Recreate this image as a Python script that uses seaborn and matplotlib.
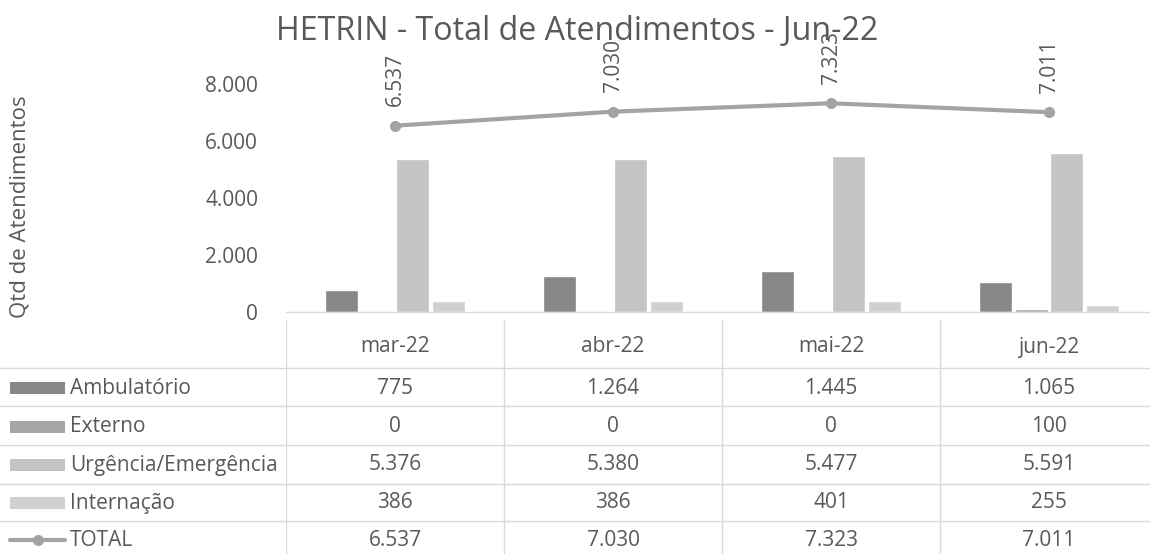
import matplotlib
matplotlib.use("Agg")
import matplotlib.pyplot as plt
from matplotlib.patches import Rectangle
from matplotlib.lines import Line2D
import seaborn as sns
import pandas as pd

# chart data
months = ["mar-22", "abr-22", "mai-22", "jun-22"]
series = ["Ambulatório", "Externo", "Urgência/Emergência", "Internação"]
ambulatorio = [775, 1264, 1445, 1065]
externo = [0, 0, 0, 100]
urgencia = [5376, 5380, 5477, 5591]
internacao = [386, 386, 401, 255]
total = [6537, 7030, 7323, 7011]
y_ticks = [0, 2000, 4000, 6000, 8000]

colors = {"Ambulatório": "#878787", "Externo": "#a6a6a6",
          "Urgência/Emergência": "#c4c4c4", "Internação": "#d0d0d0"}
line_color = "#a3a3a3"
text_color = "#595959"
grid_color = "#d9d9d9"
fs = 15


def fmt(v):
    # brazilian thousands separator
    return f"{v:,}".replace(",", ".")


sns.set_theme(style="white")
plt.rcParams['font.family'] = ['Open Sans', 'DejaVu Sans']

W, H = 1150, 554
fig = plt.figure(figsize=(W / 100, H / 100), dpi=100)

# plot area in pixels
x0, x1 = 286, 1158
y_base, y_top = 312, 84
ax = fig.add_axes([x0 / W, 1 - y_base / H, (x1 - x0) / W, (y_base - y_top) / H])

df = pd.DataFrame({"month": months * 4,
                   "serie": sum([[s] * 4 for s in series], []),
                   "value": ambulatorio + externo + urgencia + internacao})

sns.barplot(data=df, x="month", y="value", hue="serie", order=months, hue_order=series,
            palette=colors, width=0.652, gap=0.07, errorbar=None, legend=False,
            saturation=1, ax=ax)

ax.plot(range(len(months)), total, color=line_color, lw=3, marker="o", markersize=7,
        solid_capstyle="round", zorder=5)
for i, v in enumerate(total):
    ax.annotate(fmt(v), (i, v), xytext=(0, 14), textcoords="offset points",
                rotation=90, ha="center", va="bottom", fontsize=fs, color=text_color,
                annotation_clip=False)

ax.set_xlim(-0.5, 3.5)
ax.set_ylim(0, 8000)
ax.set_yticks(y_ticks)
ax.set_yticklabels([fmt(t) for t in y_ticks], fontsize=fs, color=text_color)
ax.tick_params(axis="y", length=0, pad=20)
ax.set_xticks([])
ax.set_xlabel("")
ax.set_ylabel("")
for s in ["top", "right", "left"]:
    ax.spines[s].set_visible(False)
ax.spines["bottom"].set_color(grid_color)
ax.spines["bottom"].set_linewidth(1)

fig.text(20 / W, 1 - 207 / H, "Qtd de Atendimentos", rotation=90, ha="center", va="center",
         fontsize=16, color=text_color)
fig.text(577 / W, 1 - 32 / H, "HETRIN - Total de Atendimentos - Jun-22", ha="center",
         va="center", fontsize=23.2, color=text_color)

# data table below the chart
ax_tab = fig.add_axes([x0 / W, 0, (x1 - x0) / W, (H - y_base) / H])
ax_tab.set_xlim(-0.5, 3.5)
ax_tab.set_ylim(H, y_base)
ax_tab.axis("off")

ax_leg = fig.add_axes([0, 0, x0 / W, (H - y_base) / H])
ax_leg.set_xlim(0, x0)
ax_leg.set_ylim(H, y_base)
ax_leg.axis("off")

header_y = 347
row_y = [388, 427, 465, 503, 540]
line_y = [368, 406, 445, 484, 521]
rows = [ambulatorio, externo, urgencia, internacao, total]
labels = series + ["TOTAL"]

for i, m in enumerate(months):
    ax_tab.text(i, header_y, m, ha="center", va="center", fontsize=fs, color=text_color)
    for r, vals in enumerate(rows):
        ax_tab.text(i, row_y[r], fmt(vals[i]), ha="center", va="center", fontsize=fs,
                    color=text_color)
for xb in [-0.5, 0.5, 1.5, 2.5]:
    ax_tab.plot([xb, xb], [320, H], color=grid_color, lw=1)
for ly in line_y:
    ax_tab.plot([-0.5, 3.5], [ly, ly], color=grid_color, lw=1)
    ax_leg.plot([0, x0], [ly, ly], color=grid_color, lw=1)

for r, lab in enumerate(labels):
    y = row_y[r]
    if lab == "TOTAL":
        ax_leg.add_line(Line2D([10, 65], [y, y], color=line_color, lw=3))
        ax_leg.plot([37.5], [y], marker="o", markersize=7, color=line_color)
    else:
        ax_leg.add_patch(Rectangle((10, y - 6), 55, 12, color=colors[lab], lw=0))
    ax_leg.text(70, y, lab, ha="left", va="center", fontsize=fs, color=text_color)

fig.savefig("out.png", dpi=100)
